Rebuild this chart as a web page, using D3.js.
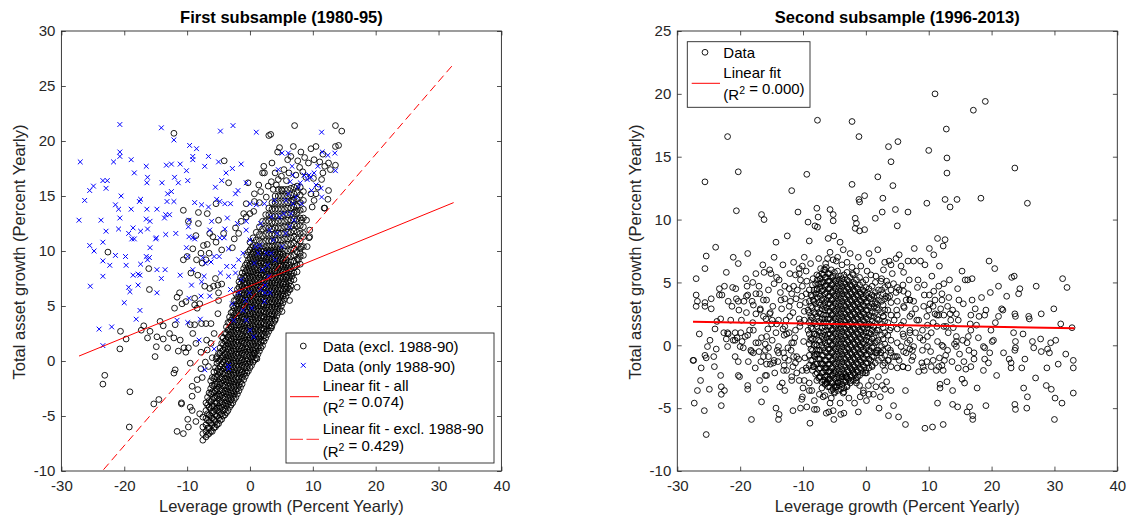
<!DOCTYPE html>
<html>
<head>
<meta charset="utf-8">
<script src="https://cdn.jsdelivr.net/npm/d3@7/dist/d3.min.js"></script>
<style>
  body { margin: 0; background: #fff; }
  text { font-family: "Liberation Sans", Arial, Helvetica, sans-serif; }
</style>
</head>
<body>
<svg id="chart" width="1131" height="521"></svg>
<script>
// ---------- tick labels ----------
var xTicks = [-30, -20, -10, 0, 10, 20, 30, 40];
var yTicksLeft = [-10, -5, 0, 5, 10, 15, 20, 25, 30];
var yTicksRight = [-10, -5, 0, 5, 10, 15, 20, 25];

// ---------- first subsample: data excl. 1988-90 (scattered points) ----------
var exclPts = [
[-12.1,20.7],[-4.1,18.2],[-3.4,16.2],[7.1,21.4],[13.6,21.4],[14.6,20.9],[3.0,20.5],[3.3,20.6],[4.7,19.4],[4.4,19.0],
[2.2,17.7],[2.0,17.1],[3.4,16.3],[-0.3,16.2],[1.7,15.4],[1.5,14.4],[0.7,14.5],[0.6,13.6],[-0.6,14.3],[-1.0,13.4],
[-2.3,12.1],[-2.5,11.1],[-2.8,10.3],[-4.5,10.1],[-4.2,11.6],[-5.0,12.8],[-5.4,14.3],[-6.4,11.6],[-6.8,10.6],[-6.5,9.8],
[-7.0,9.2],[-7.6,8.9],[-8.3,7.8],[-9.4,8.0],[-10.6,9.2],[-10.0,9.5],[-10.6,13.7],[-9.8,12.7],[-8.2,13.5],[-22.6,9.9],
[-16.1,8.4],[-16.0,6.5],[-23.1,-1.3],[-23.4,-2.1],[-20.6,2.7],[-20.7,1.1],[-19.7,2.0],[-19.1,-2.8],[-19.2,-6.0],[-16.9,3.2],
[-17.3,2.8],[-16.3,2.1],[-15.9,2.7],[-15.1,0.4],[-14.9,1.3],[-14.8,2.2],[-14.3,3.6],[-13.8,3.2],[-13.8,2.0],[-13.1,1.2],
[-12.8,2.5],[-12.1,2.1],[-11.9,3.3],[-11.9,-0.8],[-12.1,-1.1],[-11.1,1.9],[-11.4,0.9],[-10.5,1.2],[-10.2,0.8],[-9.8,1.2],
[-9.5,-0.2],[-10.9,-3.9],[-9.9,-5.3],[-9.8,-6.0],[-11.6,-6.4],[-10.6,-6.6],[-15.3,-3.9],[-14.5,-3.5],[-12.0,4.8],[-11.6,5.8],
[-11.2,6.2],[-10.8,5.2],[-10.2,5.4],[-8.8,5.7],[-8.8,5.1],[-8.4,4.8],[-8.0,5.2],[-7.2,6.8],[-6.4,6.6],[-5.8,6.8],
[-5.5,7.5],[-5.1,6.9],[-5.0,6.2],[-4.5,7.0],[-5.0,5.5],[-5.1,4.3],[-6.2,3.4],[-7.0,3.4],[-7.7,3.4],[-8.8,3.3],
[-9.5,3.3],[-9.1,2.5],[-8.6,1.6],[-7.8,0.8],[-6.9,1.9],[-6.8,1.0],[-6.2,1.6],[-5.7,2.5],[-5.4,0.2],[-4.5,2.2],
[-9.1,10.2],[-8.6,11.4],[-8.2,12.5],[-6.8,13.4],[-5.9,11.3],[-5.4,10.8],[-7.4,10.5],[-7.8,9.8],[-8.5,9.2],
[6.8,14.6],[7.4,13.7],[8.2,12.8],[8.5,11.6],[9.1,10.4],[9.4,11.2],[9.5,11.9],[9.0,12.8],[9.9,14.0],[10.2,14.6],
[9.7,15.2],[10.5,15.2],[10.8,15.8],[11.4,16.5],[11.6,17.1],[11.9,17.7],[12.5,18.0],[12.8,17.4],[12.5,15.5],[11.9,13.9],
[9.5,11.3],[7.5,6.7],[6.4,6.5],[6.7,7.7],[7.2,8.6],[7.7,9.2],[8.0,9.8],[8.1,10.4],[6.3,5.5],[5.1,4.5],
[4.0,3.7],[3.4,3.0],[1.1,0.2],[0.6,0.7],[9.7,19.3],[10.5,19.5],[10.2,18.3],[11.1,18.1],[11.6,18.8],[13.6,19.5],
[14.1,19.6],[13.6,17.8],[12.4,14.7],[11.8,13.9],[10.1,16.6],[2.3,17.1],[3.5,18.0],[4.0,17.1],[4.5,16.5],[5.1,15.5],
[5.4,17.4],[6.0,18.3],[6.5,18.6],[2.6,14.9],[1.4,16.0],[0.7,15.2],[0.0,13.4],[-0.6,13.1],[-1.4,12.7],[-1.8,11.6],
[-9.5,-4.2],[-9.2,-3.2],[-10.9,-3.8],[-9.2,-2.3],[-8.4,-1.7],[-7.8,-0.7],[-7.1,-0.1],[-8.0,-4.8],[-8.6,-5.5],[-9.2,-4.5],
[-8.3,-2.6],[-7.6,-1.5],[-6.6,-0.5],[-6.0,0.3],
[4.2,16.0],[5.8,16.4],[7.3,16.9],[7.9,17.6],[8.4,17.2],[8.9,16.7],[6.2,17.1],[5.0,16.8],[3.7,15.6],[2.9,15.9],
[8.7,18.5],[9.3,18.0],[7.6,18.2],[6.9,19.5],[8.1,19.0]
];

// dense band of the first subsample, read column by column: [x, [y values]]
var exclCols = [
[-7.5,[-7.2,-6.6,-6.0,-5.1]],
[-7.0,[-6.9,-6.4,-5.8,-5.2,-4.5,-3.8]],
[-6.5,[-6.6,-6.1,-5.5,-4.9,-4.2,-3.6,-2.9]],
[-6.0,[-6.4,-5.8,-5.2,-4.7,-4.1,-3.5,-2.8,-2.2,-1.5]],
[-5.5,[-6.0,-5.5,-4.9,-4.4,-3.8,-3.3,-2.7,-2.1,-1.4,-0.6]],
[-5.0,[-5.7,-5.2,-4.6,-4.1,-3.5,-3.0,-2.4,-1.9,-1.3,-0.7,0.0,0.7]],
[-4.5,[-5.3,-4.8,-4.2,-3.7,-3.1,-2.6,-2.0,-1.5,-0.9,-0.3,0.3,0.9,1.6]],
[-4.0,[-4.9,-4.4,-3.8,-3.3,-2.7,-2.2,-1.6,-1.1,-0.5,0.1,0.6,1.2,1.8,2.5]],
[-3.5,[-4.5,-3.9,-3.4,-2.8,-2.3,-1.7,-1.2,-0.6,0.0,0.5,1.1,1.6,2.2,2.8,3.5]],
[-3.0,[-4.0,-3.5,-2.9,-2.4,-1.8,-1.3,-0.7,-0.2,0.4,0.9,1.5,2.0,2.6,3.1,3.7,4.4]],
[-2.5,[-3.5,-3.0,-2.4,-1.9,-1.3,-0.8,-0.2,0.3,0.9,1.4,2.0,2.5,3.1,3.6,4.2,4.8,5.5]],
[-2.0,[-3.0,-2.5,-1.9,-1.4,-0.8,-0.3,0.3,0.8,1.4,1.9,2.5,3.0,3.6,4.1,4.7,5.2,5.8,6.5]],
[-1.5,[-2.4,-1.9,-1.3,-0.8,-0.2,0.3,0.9,1.4,2.0,2.5,3.1,3.6,4.2,4.7,5.3,5.8,6.4,7.0,7.6]],
[-1.0,[-1.7,-1.2,-0.6,-0.1,0.5,1.0,1.6,2.1,2.7,3.2,3.8,4.3,4.9,5.4,6.0,6.5,7.1,7.7,8.4]],
[-0.5,[-1.1,-0.6,0.0,0.5,1.1,1.6,2.2,2.7,3.3,3.8,4.4,4.9,5.5,6.0,6.6,7.1,7.7,8.3,8.9,9.6]],
[0.0,[-0.6,-0.1,0.5,1.0,1.6,2.1,2.7,3.2,3.8,4.3,4.9,5.4,6.0,6.5,7.1,7.6,8.2,8.8,9.4,10.1,10.8]],
[0.5,[-0.1,0.4,1.0,1.5,2.1,2.6,3.2,3.7,4.3,4.8,5.4,5.9,6.5,7.0,7.6,8.1,8.7,9.3,9.9,10.5,11.2]],
[1.0,[0.3,0.9,1.4,2.0,2.5,3.1,3.6,4.2,4.7,5.3,5.8,6.4,6.9,7.5,8.0,8.6,9.2,9.8,10.4,11.0,11.7]],
[1.5,[0.9,1.4,2.0,2.5,3.1,3.6,4.2,4.7,5.3,5.8,6.4,6.9,7.5,8.0,8.6,9.1,9.7,10.3,10.9,11.5,12.2]],
[2.0,[1.4,1.9,2.5,3.0,3.6,4.1,4.7,5.2,5.8,6.3,6.9,7.4,8.0,8.5,9.1,9.6,10.2,10.8,11.4,12.0,12.7]],
[2.5,[2.1,2.6,3.2,3.7,4.3,4.8,5.4,5.9,6.5,7.0,7.6,8.1,8.7,9.2,9.8,10.3,10.9,11.5,12.1,12.7,13.3]],
[3.0,[2.7,3.2,3.8,4.3,4.9,5.4,6.0,6.5,7.1,7.6,8.2,8.7,9.3,9.8,10.4,10.9,11.5,12.1,12.7,13.3,13.9]],
[3.5,[3.2,3.8,4.3,4.9,5.4,6.0,6.5,7.1,7.6,8.2,8.7,9.3,9.8,10.4,10.9,11.5,12.0,12.6,13.2,13.8,14.4]],
[4.0,[3.8,4.4,4.9,5.5,6.0,6.6,7.1,7.7,8.2,8.8,9.3,9.9,10.4,11.0,11.5,12.1,12.6,13.2,13.8,14.4,15.0]],
[4.5,[4.4,5.0,5.5,6.1,6.6,7.2,7.7,8.3,8.8,9.4,9.9,10.5,11.0,11.6,12.1,12.7,13.2,13.8,14.4,15.0,15.6]],
[5.0,[5.0,5.5,6.1,6.6,7.2,7.7,8.3,8.8,9.4,9.9,10.5,11.0,11.6,12.1,12.7,13.2,13.8,14.4,15.0,15.6]],
[5.5,[5.6,6.1,6.7,7.2,7.8,8.3,8.9,9.4,10.0,10.5,11.1,11.6,12.2,12.7,13.3,13.8,14.4,15.0,15.6]],
[6.0,[6.2,6.7,7.3,7.8,8.4,8.9,9.5,10.0,10.6,11.1,11.7,12.2,12.8,13.3,13.9,14.4,15.0,15.6]],
[6.5,[6.8,7.3,7.9,8.4,9.0,9.5,10.1,10.6,11.2,11.7,12.3,12.8,13.4,13.9,14.5,15.1,15.7]],
[7.0,[7.4,8.0,8.5,9.1,9.6,10.2,10.7,11.3,11.8,12.4,12.9,13.5,14.0,14.6,15.2,15.8]],
[7.5,[8.1,8.7,9.3,9.9,10.5,11.1,11.7,12.3,12.9,13.5,14.1,14.7,15.3,15.9]],
[8.0,[8.8,9.5,10.2,10.9,11.6,12.3,13.0,13.7,14.4,15.1,15.8]],
[8.5,[9.6,10.4,11.3,12.2,13.0,13.8,14.6,15.4]]
];

// the darkest part of that band, read between the columns above
var exclCols2 = [
[-6.75,[-6.7,-6.1,-5.4,-4.8,-4.0,-3.3]],
[-6.25,[-6.4,-5.6,-5.0,-4.3,-3.7,-3.0,-2.5,-1.8]],
[-5.75,[-6.1,-5.3,-4.6,-4.1,-3.4,-2.9,-2.3,-1.6,-1.0]],
[-5.25,[-5.8,-5.0,-4.3,-3.8,-3.2,-2.6,-2.1,-1.5,-0.9,-0.2,0.4]],
[-4.75,[-5.4,-4.9,-4.3,-3.8,-3.2,-2.7,-2.1,-1.6,-1.0,-0.5,0.1,0.7,1.2]],
[-4.25,[-5.0,-4.5,-4.0,-3.4,-2.9,-2.3,-1.8,-1.2,-0.7,-0.1,0.4,1.0,1.5,2.1]],
[-3.75,[-4.7,-4.1,-3.6,-3.0,-2.5,-1.9,-1.4,-0.8,-0.3,0.3,0.8,1.4,1.9,2.5,3.1]],
[-3.25,[-4.2,-3.7,-3.1,-2.6,-2.0,-1.5,-0.9,-0.4,0.2,0.7,1.3,1.8,2.4,2.9,3.5,4.0]],
[-2.75,[-3.8,-3.2,-2.7,-2.1,-1.6,-1.0,-0.5,0.1,0.6,1.2,1.7,2.3,2.8,3.4,3.9,4.5,5.0]],
[-2.25,[-3.3,-2.7,-2.2,-1.6,-1.1,-0.5,0.0,0.6,1.1,1.7,2.2,2.8,3.3,3.9,4.4,5.0,5.5,6.1]],
[-1.75,[-2.7,-2.2,-1.6,-1.1,-0.5,0.0,0.6,1.1,1.7,2.2,2.8,3.3,3.9,4.4,5.0,5.5,6.1,6.7,7.2]],
[-1.25,[-2.1,-1.5,-1.0,-0.4,0.1,0.7,1.2,1.8,2.3,2.9,3.4,4.0,4.5,5.1,5.6,6.2,6.8,7.4,8.0]],
[-0.75,[-1.4,-0.9,-0.3,0.2,0.8,1.3,1.9,2.4,3.0,3.5,4.1,4.6,5.2,5.7,6.3,6.9,7.5,8.1,8.7]],
[-0.25,[-0.9,-0.3,0.2,0.8,1.3,1.9,2.4,3.0,3.5,4.1,4.6,5.2,5.7,6.3,6.8,7.4,8.0,8.6,9.2,9.9]],
[0.25,[-0.4,0.2,0.7,1.3,1.8,2.4,2.9,3.5,4.0,4.6,5.1,5.7,6.2,6.8,7.3,7.9,8.5,9.1,9.7,10.3]],
[0.75,[0.1,0.7,1.2,1.8,2.3,2.9,3.4,4.0,4.5,5.1,5.6,6.2,6.7,7.3,7.8,8.4,9.0,9.6,10.2]],
[1.25,[0.6,1.2,1.7,2.3,2.8,3.4,3.9,4.5,5.0,5.6,6.1,6.7,7.2,7.8,8.3,8.9,9.5,10.1]],
[1.75,[1.2,1.7,2.3,2.8,3.4,3.9,4.5,5.0,5.6,6.1,6.7,7.2,7.8,8.3,8.9,9.4,10.0]],
[2.25,[1.8,2.3,2.9,3.4,4.0,4.5,5.1,5.6,6.2,6.7,7.3,7.8,8.4,8.9,9.5,10.0]],
[2.75,[2.4,2.9,3.5,4.0,4.6,5.1,5.7,6.2,6.8,7.3,7.9,8.4,9.0,9.5,10.1]],
[3.25,[3.0,3.5,4.1,4.6,5.2,5.7,6.3,6.8,7.4,7.9,8.5,9.0,9.6,10.1]],
[3.75,[3.5,4.1,4.6,5.2,5.7,6.3,6.8,7.4,7.9,8.5,9.0,9.6,10.1]],
[4.25,[4.1,4.7,5.2,5.8,6.3,6.9,7.4,8.0,8.5,9.1,9.6,10.2]],
[4.75,[4.7,5.3,5.8,6.4,6.9,7.5,8.0,8.6,9.1,9.7,10.2]],
[5.25,[5.3,5.9,6.4,7.0,7.5,8.1,8.6,9.2,9.7]],
[5.75,[5.9,6.5,7.0,7.6,8.1,8.7,9.2]],
[6.25,[6.5,7.1,7.6,8.2,8.7]]
];

// ---------- first subsample: data only 1988-90 ----------
var onlyPts = [
[-27.0,18.1],[-20.7,21.5],[-14.1,21.2],[-12.1,20.1],[-2.7,21.4],[-4.7,20.9],[1.0,20.8],[11.4,20.8],
[-27.2,12.8],[-26.3,14.6],[-25.5,15.5],[-24.9,15.9],[-23.4,16.4],[-22.7,16.4],[-22.9,15.7],[-21.7,18.1],
[-20.7,19.0],[-20.7,18.6],[-18.9,18.3],[-18.4,17.1],[-16.5,17.7],[-16.3,16.7],[-16.4,16.2],[-14.0,16.2],
[-13.3,17.8],[-12.5,17.9],[-12.0,16.7],[-11.4,16.2],[-11.1,17.9],[-10.1,17.3],[-9.9,16.4],[-9.6,19.6],
[-8.5,19.3],[-9.1,18.6],[-9.1,18.3],[-6.6,18.6],[-7.2,17.7],[-5.0,18.1],[-2.8,17.5],[-1.4,17.9],
[-3.8,17.1],[-4.5,16.4],[-5.5,15.8],[-4.8,14.5],[-5.3,14.7],[-2.3,15.2],[-1.9,15.5],[-0.6,16.2],
[-8.8,14.4],[-7.7,14.2],[-6.6,14.0],[-4.0,14.3],[-3.1,14.3],[-12.5,15.4],[-13.1,15.2],[-13.2,14.5],
[-12.1,14.5],[-14.8,13.8],[-16.4,13.8],[-17.4,14.7],[-17.6,14.5],[-18.9,13.8],[-20.5,15.0],[-21.4,14.2],
[-20.9,13.8],[-20.7,13.0],[-23.7,12.8],[-22.9,11.8],[-20.9,12.0],[-19.3,11.6],[-18.6,12.1],[-18.8,11.1],
[-18.4,11.1],[-17.4,11.8],[-16.3,12.0],[-15.9,12.7],[-16.5,12.9],[-25.5,10.5],[-24.8,10.0],[-23.4,10.8],
[-21.4,9.6],[-19.8,9.5],[-19.7,8.7],[-23.4,9.1],[-22.3,8.7],[-23.4,7.7],[-25.4,6.8],[-20.0,5.3],
[-19.3,6.7],[-19.1,6.3],[-18.6,7.8],[-17.8,7.9],[-17.5,7.8],[-17.4,8.8],[-16.3,9.2],[-16.0,9.4],
[-16.5,9.5],[-15.9,10.3],[-15.0,11.1],[-14.9,11.2],[-13.4,11.5],[-11.8,11.6],[-17.8,6.9],[-17.5,4.6],
[-18.1,3.8],[-24.0,2.9],[-22.0,3.1],[-23.4,1.4],[-13.6,13.0],[-13.4,13.3],[-12.8,13.3],[-14.8,8.3],
[-14.1,7.5],[-14.8,6.2],[-13.5,8.3],[-10.1,10.3],[-9.7,11.3],[-9.1,11.2],[-8.8,11.1],[-9.8,12.2],
[-9.7,12.8],[-9.9,9.5],[-11.1,7.8],[-9.1,8.3],[-9.3,6.9],[-9.7,5.7],[-7.5,9.4],[-7.1,8.9],
[-6.2,9.0],[-5.7,9.5],[-4.9,9.5],[-7.3,7.7],[-7.7,7.2],[-7.8,5.9],[-6.4,5.9],[-11.6,3.7],
[-9.9,3.5],[-7.9,3.8],[-8.1,1.9],[-6.4,11.9],[-6.1,12.7],[-4.8,11.2],[-4.1,11.2],[-3.4,10.2],
[-3.7,8.6],[-4.7,8.0],[-4.0,12.0],[-3.6,13.0],[-2.0,12.5],[-0.6,12.7],[0.0,14.3],[1.0,14.2],
[2.3,14.3],[3.9,14.6],[4.5,17.4],[5.1,18.9],[6.1,18.9],[6.7,17.7],[6.8,16.9],[8.0,16.2],
[8.2,14.3],[8.6,16.9],[9.7,16.7],[10.5,16.0],[10.8,17.7],[11.5,19.0],[12.4,18.7],[13.5,18.9],
[13.6,17.3],[11.3,15.7],[9.8,15.5],[11.4,14.9],[-5.7,1.1],[-7.2,-0.8],[-3.4,-0.7],
[-2.6,3.7],[-2.8,5.2],[-3.1,6.5],[-2.3,8.0],[-1.4,7.4],[-0.7,5.5],[-0.1,6.2],[0.3,4.8],
[0.7,8.9],[1.3,9.8],[2.0,8.3],[2.3,5.4],[1.7,6.5],[2.4,6.9],[3.0,7.7],[3.4,9.8],
[3.7,11.0],[4.3,11.6],[4.7,13.1],[5.4,13.4],[5.7,11.6],[6.3,12.2],[6.5,13.4],[6.8,14.3],
[7.3,14.9],[7.7,15.8],[7.0,12.8],[5.1,10.4],[4.0,9.2],[2.6,9.8],[0.9,10.4],[0.0,11.0],
[-0.6,11.9],[-1.1,9.8],[-1.8,9.2],[-2.6,8.6],[-3.4,7.7],[-1.8,6.2],[-1.1,4.6],[-0.6,3.7],
[0.0,2.8],[0.6,2.2],[-3.4,-0.4],[3.2,6.2],[2.4,6.2],[2.8,8.7],[1.6,10.5],[3.1,11.9],
[1.7,12.5],[3.4,13.1],[5.7,14.6],[6.1,15.2],[6.4,16.3],[9.1,16.5],[9.4,16.9],[10.2,17.1]
];

// ---------- fitted lines, first subsample ----------
var fitAllX = [-27.2, 32.4], fitAllY = [0.45, 14.4];
var fitExclX = [-27.2, 32.4], fitExclY = [-12.46, 27.0];

// ---------- second subsample: scattered points ----------
var rightPts = [
[11.0,20.0],[19.0,19.4],[17.1,18.7],[-7.7,17.9],[-2.2,17.8],[-1.1,16.6],[-22.0,16.6],[3.6,15.8],[5.1,16.2],[10.0,15.5],
[12.8,17.2],[12.9,14.9],[4.0,14.6],[23.7,14.1],[-20.3,13.8],[-25.6,13.0],[-9.4,13.6],[12.9,13.7],[1.9,13.4],[-2.2,12.8],
[4.3,12.7],[-11.8,12.3],[-0.2,11.9],[-1.1,11.6],[-1.0,11.4],[2.7,11.7],[9.7,11.3],[12.6,11.6],[14.5,11.6],[18.3,11.7],
[25.7,11.3],[13.4,11.0],[-20.6,10.7],[-10.8,10.6],[-7.8,10.9],[-7.6,10.2],[-5.7,10.8],[-5.2,10.4],[-5.2,9.9],[-16.6,10.4],
[-16.2,10.0],[-9.2,9.8],[-8.1,9.5],[-7.7,9.4],[-1.7,10.1],[-1.5,9.7],[-1.7,9.3],[-0.2,9.2],[-1.0,9.1],[1.5,10.1],
[2.6,10.6],[4.7,10.8],[6.7,10.6],[5.0,9.5],[-9.0,8.3],[-12.5,8.7],[-14.3,8.2],[-6.0,8.5],[-5.1,8.7],[-4.1,8.2],
[-23.9,7.8],[-18.8,7.3],[-25.4,7.1],[-21.1,7.0],[-20.3,6.5],[-25.6,6.1],[-14.6,7.0],[-16.4,6.4],[-15.3,6.0],[-22.2,5.8],
[-27.0,5.3],[-27.0,4.0],[-26.8,3.5],[-27.0,3.1],[-25.6,3.1],[-25.6,3.4],[-24.6,2.9],[-24.6,3.7],[-23.3,4.5],[-23.3,4.0],
[-22.5,4.7],[-21.2,4.6],[-20.7,4.5],[-20.3,3.5],[-21.3,3.1],[-19.1,5.3],[-18.9,4.7],[-18.8,4.0],[-18.0,5.0],[-19.4,3.5],
[-20.2,2.8],[-23.1,2.1],[-26.5,0.9],[-24.0,1.3],[-22.6,1.0],[-22.0,1.0],[-22.2,0.5],[-20.8,1.0],[-20.8,0.4],[-20.5,0.6],
[-19.9,1.0],[-22.0,-0.1],[-23.8,-0.3],[-25.2,-0.1],[-27.4,-1.2],[-27.5,-1.2],[-25.4,-1.0],[-25.6,-0.8],[-26.2,-1.8],[-24.1,-1.7],
[-20.8,-0.9],[-20.3,-1.3],[-20.3,-2.4],[-20.1,-2.5],[-23.1,-2.4],[-26.3,-2.8],[-26.8,-3.6],[-24.9,-3.5],[-23.0,-3.3],[-22.5,-3.6],
[-23.0,-3.9],[-23.0,-4.8],[-27.3,-4.6],[-25.7,-5.2],[-25.4,-7.1],[-18.8,-3.2],[-18.8,-3.5],[-18.2,-5.9],[-16.6,-4.5],[-16.9,-2.8],
[-16.0,-2.4],[-16.0,-3.5],[-12.9,-3.6],[-13.3,-3.0],[-13.9,-5.9],[-13.8,-5.5],[-14.3,-5.0],[-11.6,-5.2],[-11.8,-2.5],[-10.6,-2.8],
[-10.4,-5.0],[-10.2,-4.3],[-10.1,-4.1],[-9.4,-4.9],[-8.9,-6.2],[-9.0,-3.0],[-9.0,-3.6],[-8.2,-5.1],[-7.8,-5.1],[-7.4,-3.9],
[-6.3,-5.4],[-5.9,-5.3],[-5.7,-4.6],[-5.2,-5.2],[-5.1,-5.9],[-4.0,-5.5],[-3.5,-5.4],[-1.2,-5.3],[0.1,-4.4],[2.3,-4.1],
[2.1,-5.0],[3.6,-5.6],[4.4,-4.8],[5.2,-5.7],[6.3,-6.3],[6.3,-3.6],[9.4,-6.6],[10.6,-6.5],[12.3,-6.3],[11.4,-4.6],
[13.8,-4.7],[14.6,-4.9],[11.8,-3.1],[11.8,-3.4],[12.9,-2.9],[13.8,-3.6],[16.1,-5.3],[16.5,-4.9],[17.0,-5.6],[17.0,-5.9],
[17.7,-3.4],[15.3,-2.7],[15.7,-3.0],[19.1,-4.8],[20.8,-2.4],[23.7,-4.7],[23.8,-5.1],[25.1,-3.4],[25.7,-4.1],[25.6,-5.0],
[24.8,-1.8],[23.1,-1.8],[23.1,-1.4],[22.8,-1.1],[23.8,-0.2],[23.8,0.3],[23.7,-0.4],[23.5,1.0],[25.3,-1.1],[26.5,0.3],
[26.7,-0.2],[27.8,0.5],[27.9,-0.5],[28.9,-0.3],[29.2,-0.6],[28.8,-1.8],[28.7,-3.2],[29.5,-3.5],[30.1,-4.2],[31.2,-4.6],
[30.0,-5.9],[33.0,-3.8],[33.0,-1.8],[33.0,-1.2],[30.6,-1.5],[29.4,0.2],[30.2,0.4],[31.0,1.7],[32.8,1.4],[29.9,2.9],
[32.0,4.6],[31.3,5.3],[27.1,4.7],[27.9,2.5],[25.9,2.3],[26.0,2.1],[24.5,4.5],[24.3,4.1],[23.2,5.4],[23.6,5.5],
[23.7,2.5],[23.8,2.3],[21.1,4.7],[19.8,4.2],[20.5,6.1],[19.6,6.7],[19.1,2.8],[18.9,2.4],[21.6,2.9],[21.8,2.8],
[21.1,2.3],[19.9,1.2],[20.1,0.3],[20.3,0.4],[18.9,-0.2],[18.7,-0.1],[19.7,-0.6],[18.9,-1.1],[19.5,-1.4],[18.7,-2.0],
[17.6,1.6],[18.0,2.3],[16.9,3.6],[17.4,2.9],[16.7,2.4],[16.7,1.2],[16.3,0.7],[16.1,0.2],[16.4,-0.4],[17.2,-0.6],
[17.2,-1.1],[16.7,-1.7],[15.6,-1.3],[14.9,-0.7],[14.7,-1.8],[13.7,-1.3],[14.4,-0.1],[14.1,0.1],[14.4,0.3],[13.1,1.0],
[12.4,1.5],[13.5,2.0],[14.4,2.5],[14.7,2.0],[13.8,2.8],[13.0,3.1],[14.6,4.5],[15.3,5.9],[15.8,5.2],[16.2,5.2],
[16.9,5.3],[11.7,6.3],[12.4,4.9],[13.3,5.2],[12.1,4.1],[11.6,4.7],[11.0,3.6],[10.7,3.1],[10.0,2.8],[9.3,4.0],
[10.1,4.0],[9.3,4.8],[9.4,6.4],[8.7,6.7],[7.6,6.7],[6.7,6.7],[5.3,7.2],[5.6,6.3],[4.0,6.4],[3.7,6.7],
[7.7,7.7],[10.1,7.7],[12.6,8.4],[11.4,8.5],[12.3,7.9],[10.8,7.2],[12.1,3.6],[11.0,2.5],[11.3,2.4],[11.6,2.4],
[12.4,2.4],[10.7,1.8],[10.4,1.0],[9.8,0.7],[9.8,-0.1],[9.0,-0.4],[9.7,-1.3],[9.3,-2.0],[8.4,-2.1],[10.4,-1.7],
[11.2,-2.0],[11.6,-1.7],[12.1,-1.6],[13.0,-0.4],[12.1,0.0],[11.7,-1.0],[12.7,-0.8],[7.3,-1.2],[6.7,-1.8],[5.9,-1.7],
[5.0,-1.8],[4.0,-1.7],[2.7,-1.6],[3.0,-2.0],[2.0,-2.5],[0.9,-2.8],[1.6,-3.3],[3.3,-2.9],[3.0,-3.5],[4.0,-3.6],
[0.5,-3.9],[-0.4,-3.8],[-1.0,-3.2],[-1.5,-3.0],[-3.0,-3.3],[-3.5,-3.7],[-3.2,-2.5],[-2.1,-2.0],[-4.4,-3.0],[-5.0,-3.7],
[-6.5,-4.0],[-6.5,-2.8],[-7.4,-2.5],[-6.4,-2.0],[-8.4,-1.7],[-9.5,-1.8],[-10.1,-2.0],[-11.6,-1.7],[-11.2,-1.4],[-11.5,-0.9],
[-12.9,-1.0],[-13.1,-0.6],[-12.4,-0.2],[-13.9,-0.1],[-14.6,-1.2],[-15.2,-1.5],[-15.8,-1.5],[-15.5,-0.9],[-16.0,-0.4],[-17.0,-0.5],
[-17.9,-0.6],[-18.3,-0.4],[-17.5,0.2],[-16.6,0.6],[-15.8,0.7],[-16.0,0.1],[-14.9,0.4],[-14.3,1.0],[-12.9,1.5],[-13.0,0.8],
[-12.2,1.0],[-11.2,1.2],[-11.8,0.2],[-18.5,1.2],[-18.8,0.8],[-19.7,0.3],[-19.5,-0.2],[-18.0,1.8],[-17.5,2.5],[-16.8,2.9],
[-15.9,2.1],[-15.2,2.6],[-14.9,2.0],[-13.9,2.0],[-13.5,3.6],[-12.9,3.7],[-12.2,3.1],[-11.8,4.1],[-11.1,3.7],[-10.5,3.2],
[-9.8,2.7],[-10.6,2.1],[-9.8,2.0],[-15.5,4.4],[-14.6,4.9],[-14.2,5.4],[-13.8,5.2],[-12.9,4.7],[-12.1,5.7],[-11.5,4.7],
[-10.6,5.7],[-10.1,6.3],[-10.6,6.1],[-11.2,5.6],[-9.5,5.9],[-17.0,4.7],[-17.5,4.1],[-16.9,4.1],[-18.1,3.5],[-16.3,3.6],
[-16.2,5.8],[-15.1,5.7],[-17.5,5.7],
[-5.2,6.8],[-4.7,6.7],[-6.1,6.9],[-7.2,6.1],[-6.7,6.0],[-3.8,6.4],[-2.1,5.7],[-1.5,5.9],[0.2,5.9],[1.6,5.5],
[2.4,5.1],[3.3,5.1],[4.2,5.7],[4.4,4.9],[5.3,4.4],[5.9,4.8],[6.7,4.1],[6.4,3.6],[7.6,3.5],[7.3,2.5],
[8.4,2.0],[9.0,1.2],[7.9,1.0],[7.0,0.4],[7.6,-0.1],[6.4,-0.6],[5.6,-0.1],[4.7,-0.9],[3.6,-1.2],[2.4,-0.6],
[1.0,-1.7],[-0.1,-2.2],[-1.3,-2.5],[-2.4,-2.8],[-3.8,-2.5],[-5.0,-2.2],[-6.1,-2.5],[-7.2,-1.4],[-8.1,-0.9],[-7.8,-0.4],
[-8.8,0.4],[-9.2,1.2],[-8.8,2.0],[-9.2,2.8],[-8.4,3.6],[-7.8,4.4],[-7.2,4.9],[-9.5,4.1],[-10.1,4.7],[-10.4,5.2],
[-8.4,5.3],[-7.8,5.6]
];

// second pass over the mid-density ring of the second subsample
var rightPts2 = [
[-22.9,4.0],[-21.9,3.5],[-20.6,3.7],[-19.0,3.9],[-17.9,3.2],[-16.8,2.8],[-15.8,3.6],[-15.3,2.5],[-14.2,1.7],[-13.4,2.9],
[-12.6,0.9],[-12.1,2.3],[-11.5,0.2],[-11.0,-0.9],[-10.5,1.5],[-21.9,0.9],[-21.1,0.4],[-20.0,-0.1],[-19.2,0.7],[-18.2,-0.5],
[-17.1,0.2],[-16.3,-0.9],[-15.5,-0.2],[-14.7,-1.4],[-13.9,-0.6],[-13.1,-2.0],[-12.3,-1.2],[-11.8,-2.8],[-17.9,1.2],[-19.8,2.0],
[-23.7,1.9],[-24.8,0.4],[-18.7,-1.3],[-15.8,-2.4],[-13.7,-3.3],
[1.7,3.3],[2.8,2.3],[3.8,3.9],[4.9,2.8],[5.9,0.9],[7.0,3.6],[8.1,2.0],[9.1,0.4],[10.2,3.3],[11.3,1.5],
[12.3,-0.1],[13.4,2.5],[14.4,0.7],[15.5,3.3],[16.6,1.7],[1.7,-0.4],[3.0,-1.4],[4.4,-0.9],[5.9,-1.7],[7.5,-0.9],
[9.1,-1.7],[10.7,-1.2],[12.3,-2.0],[1.2,1.5],[3.8,1.2],[7.0,1.2],[9.7,2.3],[12.8,1.5],[0.1,-2.2],[-1.5,-2.8],
[-3.1,-2.5],[-4.6,-3.3],[-6.2,-3.0],[-7.8,-2.8],[-9.4,-2.0],[-8.6,-3.6],[-6.8,-4.1],[-3.6,-3.8],[-0.4,-3.6],
[-8.8,6.5],[-6.3,6.2],[-3.0,6.6],[-0.8,6.3],[1.0,6.7],[2.8,6.0],[-4.5,7.0],[-2.5,7.3],[0.5,7.3],[-11.5,6.6],
[-13.2,6.4],[4.8,6.9],[8.3,5.2],[10.5,5.5],[6.0,5.8],[-9.8,-2.8],[-12.6,-2.0],[-14.0,-1.3],
[-15.6,1.3],[-14.8,3.1],[-14.1,-0.4],[-13.6,4.2],[-13.0,-1.6],[-12.7,2.0],[-12.2,4.5],[-11.9,-0.4],[-11.6,2.6],[-11.3,0.6],
[-10.9,4.4],[-10.7,-1.1],[-10.4,1.8],[-10.2,3.9],[-9.9,0.3],[-9.7,-1.0],[-9.6,3.4],[-9.4,5.1],[-10.0,-3.4],[-11.0,-2.2],
[-12.0,3.5],[-13.2,1.3],[-14.5,-2.2],[-15.0,1.7],[-16.3,2.3],[-16.7,-1.3],[-17.6,-1.8],[-19.0,2.6],[-21.5,2.0],[-24.2,-0.9],
[3.2,3.9],[3.9,-0.4],[4.5,2.0],[4.8,4.2],[5.3,-1.2],[5.6,1.6],[6.1,3.0],[6.6,0.2],[6.9,5.2],[7.4,-0.4],
[7.9,2.9],[8.2,4.6],[8.6,0.6],[8.9,-1.4],[9.2,3.1],[9.8,1.6],[10.3,-0.5],[10.8,4.3],[11.4,0.3],[11.9,2.9],
[12.5,-1.2],[13.2,3.8],[13.9,1.4],[14.8,3.6],[15.4,0.4],[15.9,-1.9],[17.9,0.6],[18.4,3.8],[20.6,1.8],[21.9,-0.6],
[22.4,3.9],[25.0,0.9],[27.0,-2.6],[31.8,-0.7],
[-2.7,-4.2],[-1.8,-4.6],[-0.9,-4.1],[1.2,-3.9],[2.6,-3.2],[-5.5,-4.2],[-7.0,-3.4],[-8.2,-4.4],[-4.1,-4.6],[0.4,-3.2],
[-7.5,6.9],[-5.7,7.4],[-3.6,7.6],[-1.2,7.0],[1.9,7.6],[3.0,6.6],[-9.8,7.0],[-2.2,6.2],[-6.4,6.5],[0.8,5.6]
];

// dense core of the second subsample, column by column: [x, [y values]]
var rightCols = [
[-9.0,[-1.6,-0.8,0.1,0.9,1.8,2.6,3.5,4.4]],
[-8.5,[-2.0,-1.2,-0.4,0.5,1.3,2.2,3.0,3.9,4.8]],
[-8.0,[-2.3,-1.5,-0.7,0.1,0.9,1.7,2.5,3.3,4.1,4.9]],
[-7.5,[-2.6,-1.9,-1.1,-0.4,0.4,1.1,1.9,2.6,3.4,4.1,4.9,5.5]],
[-7.0,[-2.9,-2.2,-1.5,-0.8,0.0,0.7,1.4,2.1,2.9,3.6,4.3,5.0,5.7]],
[-6.5,[-3.1,-2.5,-1.8,-1.2,-0.5,0.2,0.8,1.5,2.1,2.8,3.4,4.1,4.7,5.4,6.0]],
[-6.0,[-3.3,-2.7,-2.1,-1.5,-0.9,-0.3,0.3,0.9,1.5,2.1,2.7,3.3,3.9,4.5,5.1,5.7]],
[-5.5,[-3.6,-3.0,-2.4,-1.8,-1.2,-0.6,0.0,0.6,1.2,1.8,2.4,3.0,3.6,4.2,4.8,5.4,6.0]],
[-5.0,[-3.8,-3.2,-2.6,-2.0,-1.4,-0.8,-0.2,0.4,1.0,1.6,2.2,2.8,3.4,4.0,4.6,5.2,5.8]],
[-4.5,[-3.6,-3.0,-2.5,-1.9,-1.3,-0.7,-0.1,0.5,1.1,1.7,2.3,2.9,3.5,4.1,4.7,5.3,5.9]],
[-4.0,[-3.5,-2.9,-2.3,-1.7,-1.1,-0.5,0.1,0.7,1.3,1.9,2.5,3.1,3.7,4.3,4.9,5.5]],
[-3.5,[-3.4,-2.8,-2.2,-1.6,-1.0,-0.4,0.2,0.8,1.4,2.0,2.6,3.2,3.8,4.4,5.0,5.6]],
[-3.0,[-3.2,-2.6,-2.0,-1.4,-0.8,-0.2,0.4,1.0,1.6,2.2,2.8,3.4,4.0,4.6,5.2,5.8]],
[-2.5,[-3.0,-2.4,-1.8,-1.2,-0.6,0.0,0.6,1.2,1.8,2.4,3.0,3.6,4.2,4.8,5.4]],
[-2.0,[-2.8,-2.2,-1.6,-1.0,-0.4,0.2,0.8,1.4,2.0,2.6,3.2,3.8,4.4,5.0,5.6]],
[-1.5,[-2.6,-2.0,-1.4,-0.8,-0.2,0.4,1.0,1.6,2.2,2.8,3.4,4.0,4.6,5.2]],
[-1.0,[-2.4,-1.8,-1.2,-0.6,0.0,0.6,1.2,1.8,2.4,3.0,3.6,4.2,4.8,5.4]],
[-0.5,[-2.2,-1.6,-1.0,-0.4,0.2,0.8,1.4,2.0,2.6,3.2,3.8,4.4,5.0]],
[0.0,[-2.0,-1.4,-0.8,-0.2,0.4,1.0,1.6,2.2,2.8,3.4,4.0,4.6,5.2]],
[0.5,[-1.8,-1.1,-0.4,0.3,1.0,1.7,2.4,3.1,3.8,4.5]],
[1.0,[-1.6,-0.9,-0.2,0.5,1.2,1.9,2.6,3.3,4.0,4.7]],
[1.5,[-1.4,-0.6,0.2,1.0,1.8,2.6,3.4,4.2,5.0]],
[2.0,[-1.2,-0.4,0.4,1.2,2.0,2.8,3.6,4.4]],
[2.5,[-1.0,-0.1,0.8,1.7,2.6,3.5,4.4,5.3]],
[3.0,[-0.8,0.1,1.0,1.9,2.8,3.7,4.6]],
[3.5,[-1.2,-0.2,0.8,1.8,2.8,3.8,4.8]],
[4.0,[-0.6,0.4,1.4,2.4,3.4,4.4]],
[5.0,[-0.9,0.2,1.3,2.4,3.5,4.6]],
[6.0,[-0.5,0.7,1.9,3.1,4.3]],
[7.0,[-0.3,1.0,2.3,3.6]]
];

// darkest part of that core, read between the columns above
var rightCols2 = [
[-8.75,[-1.2,-0.3,0.6,1.4,2.3,3.1,4.0]],
[-8.25,[-1.7,-0.8,0.0,0.9,1.8,2.6,3.5,4.4]],
[-7.75,[-2.2,-1.5,-0.7,0.0,0.8,1.5,2.3,3.0,3.8,4.5,5.2]],
[-7.25,[-2.5,-1.8,-1.1,-0.4,0.3,1.0,1.8,2.5,3.2,3.9,4.6,5.3]],
[-6.75,[-2.8,-2.1,-1.5,-0.8,-0.2,0.5,1.1,1.8,2.4,3.1,3.7,4.4,5.0,5.6]],
[-6.25,[-3.0,-2.4,-1.8,-1.2,-0.6,0.0,0.6,1.2,1.8,2.4,3.0,3.6,4.2,4.8,5.4]],
[-5.75,[-3.3,-2.7,-2.1,-1.5,-0.9,-0.3,0.3,0.9,1.5,2.1,2.7,3.3,3.9,4.5,5.1,5.7]],
[-5.25,[-3.5,-2.9,-2.3,-1.7,-1.1,-0.5,0.1,0.7,1.3,1.9,2.5,3.1,3.7,4.3,4.9,5.5]],
[-4.75,[-3.3,-2.7,-2.1,-1.5,-0.9,-0.3,0.3,0.9,1.5,2.1,2.7,3.3,3.9,4.5,5.1]],
[-4.25,[-3.2,-2.6,-2.0,-1.4,-0.8,-0.2,0.4,1.0,1.6,2.2,2.8,3.4,4.0,4.6,5.2]],
[-3.75,[-3.1,-2.5,-1.9,-1.3,-0.7,-0.1,0.5,1.1,1.7,2.3,2.9,3.5,4.1,4.7,5.3]],
[-3.25,[-2.9,-2.3,-1.7,-1.1,-0.5,0.1,0.7,1.3,1.9,2.5,3.1,3.7,4.3,4.9]],
[-2.75,[-2.7,-2.1,-1.5,-0.9,-0.3,0.3,0.9,1.5,2.1,2.7,3.3,3.9,4.5,5.1]],
[-2.25,[-2.5,-1.9,-1.3,-0.7,-0.1,0.5,1.1,1.7,2.3,2.9,3.5,4.1,4.7]],
[-1.75,[-2.3,-1.7,-1.1,-0.5,0.1,0.7,1.3,1.9,2.5,3.1,3.7,4.3,4.9]],
[-1.25,[-2.1,-1.5,-0.9,-0.3,0.3,0.9,1.5,2.1,2.7,3.3,3.9,4.5]],
[-0.75,[-1.9,-1.3,-0.7,-0.1,0.5,1.1,1.7,2.3,2.9,3.5,4.1]],
[-0.25,[-1.7,-1.1,-0.5,0.1,0.7,1.3,1.9,2.5,3.1,3.7,4.3]],
[0.25,[-1.4,-0.7,0.0,0.7,1.4,2.1,2.8,3.5,4.2]],
[0.75,[-1.2,-0.5,0.2,0.9,1.6,2.3,3.0,3.7]],
[1.25,[-0.9,-0.1,0.7,1.5,2.3,3.1,3.9]],
[1.75,[-0.6,0.3,1.2,2.1,3.0,3.9]],
[2.75,[-0.4,0.5,1.4,2.3,3.2,4.1]]
];

var fitRightX = [-27.5, 33.2], fitRightY = [1.88, 1.35];

// ---------- helpers ----------
function expandCols(cols) {
  var out = [];
  cols.forEach(function (c) {
    c[1].forEach(function (v) { out.push([c[0], v]); });
  });
  return out;
}

var svg = d3.select("#chart");
svg.append("rect").attr("width", 1131).attr("height", 521).attr("fill", "#fff");

var AX = "#262626";

function makePanel(p) {
  var x = d3.scaleLinear().domain(p.xDom).range([p.left, p.right]);
  var y = d3.scaleLinear().domain(p.yDom).range([p.bottom, p.top]);

  svg.append("clipPath").attr("id", p.id)
    .append("rect")
    .attr("x", p.left).attr("y", p.top)
    .attr("width", p.right - p.left).attr("height", p.bottom - p.top);

  var g = svg.append("g");
  var fmt = function (d) { return String(d); };

  // ticks point inward on all four sides
  g.append("g").attr("transform", "translate(0," + p.bottom + ")")
    .call(d3.axisBottom(x).tickValues(xTicks).tickFormat(fmt).tickSizeInner(-4.4).tickSizeOuter(0).tickPadding(9));
  g.append("g").attr("transform", "translate(0," + p.top + ")")
    .call(d3.axisTop(x).tickValues(xTicks).tickFormat("").tickSizeInner(-4.4).tickSizeOuter(0));
  g.append("g").attr("transform", "translate(" + p.left + ",0)")
    .call(d3.axisLeft(y).tickValues(p.yTicks).tickFormat(fmt).tickSizeInner(-4.4).tickSizeOuter(0).tickPadding(6));
  g.append("g").attr("transform", "translate(" + p.right + ",0)")
    .call(d3.axisRight(y).tickValues(p.yTicks).tickFormat("").tickSizeInner(-4.4).tickSizeOuter(0));

  g.selectAll(".domain").remove();
  g.selectAll(".tick line").attr("stroke", AX).attr("stroke-width", 0.8);
  g.selectAll(".tick text").attr("fill", AX).style("font-size", "15px")
    .style("font-family", "'Liberation Sans', Arial, sans-serif");

  g.append("rect")
    .attr("x", p.left).attr("y", p.top)
    .attr("width", p.right - p.left).attr("height", p.bottom - p.top)
    .attr("fill", "none").attr("stroke", AX).attr("stroke-width", 0.9);

  var cx = (p.left + p.right) / 2;
  svg.append("text").attr("x", cx).attr("y", 22.5).attr("text-anchor", "middle")
    .style("font-size", "16.5px").style("font-weight", "bold").attr("fill", "#000")
    .text(p.title);
  svg.append("text").attr("x", cx).attr("y", 512).attr("text-anchor", "middle")
    .style("font-size", "16.5px").attr("fill", AX)
    .text("Leverage growth (Percent Yearly)");
  svg.append("text")
    .attr("transform", "translate(" + (p.left - 36.5) + "," + ((p.top + p.bottom) / 2 + 1) + ") rotate(-90)")
    .attr("text-anchor", "middle")
    .style("font-size", "16.5px").attr("fill", AX)
    .text("Total asset growth (Percent Yearly)");

  var plot = svg.append("g").attr("clip-path", "url(#" + p.id + ")");
  return { x: x, y: y, plot: plot };
}

function drawCircles(pan, pts) {
  pan.plot.append("g").selectAll("circle")
    .data(pts).enter().append("circle")
    .attr("cx", function (d) { return pan.x(d[0]); })
    .attr("cy", function (d) { return pan.y(d[1]); })
    .attr("r", 2.9)
    .attr("fill", "none").attr("stroke", "#000").attr("stroke-width", 0.9);
}

var crossPath = "M-2.4,-2.4L2.4,2.4M-2.4,2.4L2.4,-2.4";

function drawCrosses(pan, pts) {
  pan.plot.append("g").selectAll("path")
    .data(pts).enter().append("path")
    .attr("d", crossPath)
    .attr("transform", function (d) { return "translate(" + pan.x(d[0]) + "," + pan.y(d[1]) + ")"; })
    .attr("fill", "none").attr("stroke", "#0000ff").attr("stroke-width", 1);
}

function drawFit(pan, xs, ys, width, dash) {
  var line = d3.line().x(function (d) { return pan.x(d[0]); }).y(function (d) { return pan.y(d[1]); });
  pan.plot.append("path")
    .datum(xs.map(function (v, i) { return [v, ys[i]]; }))
    .attr("d", line)
    .attr("fill", "none").attr("stroke", "#ff0000").attr("stroke-width", width)
    .attr("stroke-dasharray", dash || null);
}

function legendText(parent, xx, yy, parts) {
  var t = parent.append("text").attr("x", xx).attr("y", yy)
    .style("font-size", "15px").attr("fill", "#000");
  parts.forEach(function (s) {
    if (s === "^2") {
      t.append("tspan").attr("dy", -6).style("font-size", "10.5px").text("2");
      t.append("tspan").attr("dy", 6).text("");
    } else {
      t.append("tspan").text(s);
    }
  });
}

// ---------- panel 1 ----------
var p1 = makePanel({ id: "c1", left: 61.4, right: 501.4, top: 31, bottom: 471,
  xDom: [-30, 40], yDom: [-10, 30], yTicks: yTicksLeft, title: "First subsample (1980-95)" });
drawCircles(p1, exclPts.concat(expandCols(exclCols), expandCols(exclCols2)));
drawCrosses(p1, onlyPts);
drawFit(p1, fitAllX, fitAllY, 1, null);
drawFit(p1, fitExclX, fitExclY, 1, "8,4.5");

var lg1 = svg.append("g");
lg1.append("rect").attr("x", 286).attr("y", 333).attr("width", 208).attr("height", 130)
  .attr("fill", "#fff").attr("stroke", AX).attr("stroke-width", 0.9);
lg1.append("circle").attr("cx", 303.3).attr("cy", 346).attr("r", 2.9)
  .attr("fill", "none").attr("stroke", "#000").attr("stroke-width", 0.9);
lg1.append("path").attr("d", crossPath).attr("transform", "translate(303.3,365.3)")
  .attr("stroke", "#0000ff").attr("stroke-width", 1);
lg1.append("line").attr("x1", 290).attr("x2", 319).attr("y1", 396.7).attr("y2", 396.7)
  .attr("stroke", "#ff0000").attr("stroke-width", 1);
lg1.append("line").attr("x1", 290).attr("x2", 319).attr("y1", 439.3).attr("y2", 439.3)
  .attr("stroke", "#ff5555").attr("stroke-width", 1.2).attr("stroke-dasharray", "13,3.5");
legendText(lg1, 322.7, 352, ["Data (excl. 1988-90)"]);
legendText(lg1, 322.7, 371.5, ["Data (only 1988-90)"]);
legendText(lg1, 322.7, 390.7, ["Linear fit - all"]);
legendText(lg1, 322.7, 412.7, ["(R", "^2", " = 0.074)"]);
legendText(lg1, 322.7, 434, ["Linear fit - excl. 1988-90"]);
legendText(lg1, 322.7, 456.5, ["(R", "^2", " = 0.429)"]);

// ---------- panel 2 ----------
var p2 = makePanel({ id: "c2", left: 677.3, right: 1117.3, top: 31, bottom: 471,
  xDom: [-30, 40], yDom: [-10, 25], yTicks: yTicksRight, title: "Second subsample (1996-2013)" });
drawCircles(p2, rightPts.concat(rightPts2, expandCols(rightCols), expandCols(rightCols2)));
drawFit(p2, fitRightX, fitRightY, 2, null);

var lg2 = svg.append("g");
lg2.append("rect").attr("x", 687.3).attr("y", 41.7).attr("width", 122.7).attr("height", 65.6)
  .attr("fill", "#fff").attr("stroke", AX).attr("stroke-width", 0.9);
lg2.append("circle").attr("cx", 705).attr("cy", 52.3).attr("r", 2.9)
  .attr("fill", "none").attr("stroke", "#000").attr("stroke-width", 0.9);
lg2.append("line").attr("x1", 691.7).attr("x2", 720).attr("y1", 83.3).attr("y2", 83.3)
  .attr("stroke", "#ff0000").attr("stroke-width", 1);
legendText(lg2, 723.3, 57.7, ["Data"]);
legendText(lg2, 723.3, 77.7, ["Linear fit"]);
legendText(lg2, 723.3, 100, ["(R", "^2", " = 0.000)"]);
</script>
</body>
</html>
